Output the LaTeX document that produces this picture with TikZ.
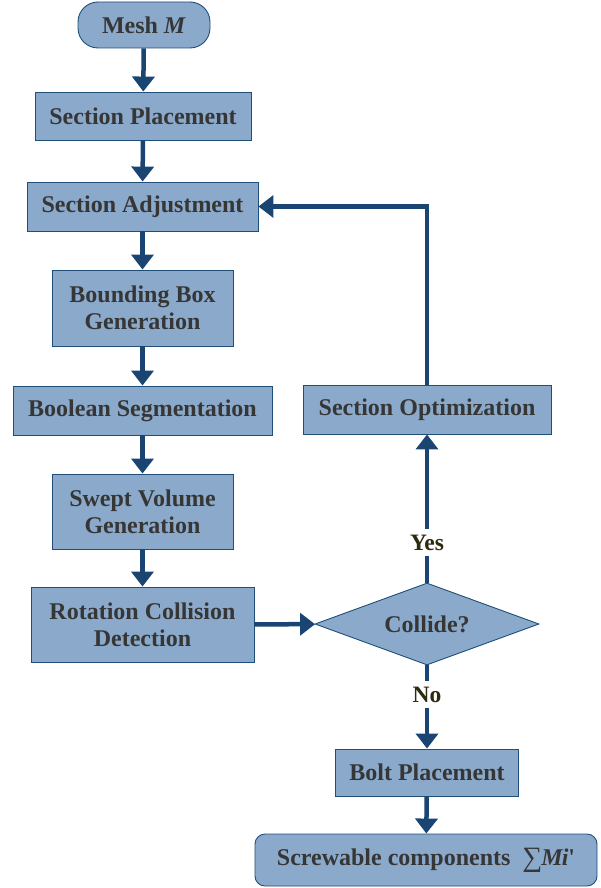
\documentclass[tikz,border=0pt]{standalone}
\usepackage{fontspec}
\setmainfont{Liberation Serif}
\usetikzlibrary{shapes.geometric,arrows.meta}
\definecolor{boxfill}{HTML}{8BAACB}
\definecolor{boxline}{HTML}{1F4E79}
\definecolor{arrowc}{HTML}{1A4472}
\definecolor{txt}{HTML}{363636}
\definecolor{lbl}{HTML}{2E2A10}
\begin{document}
\begin{tikzpicture}[x=1pt,y=-1pt,
  stepbox/.style={draw=boxline,line width=0.9pt,fill=boxfill,text=txt,font=\fontsize{24}{27}\selectfont\bfseries,align=center,inner sep=0pt},
  flow/.style={draw=arrowc,line width=4.5pt,-{Triangle[width=22pt,length=15pt]}},
  lab/.style={fill=white,text=lbl,font=\fontsize{23.5}{26}\selectfont\bfseries,inner sep=6pt}]
\useasboundingbox (0,0) rectangle (601,888);
\node[stepbox,rounded corners=20pt,minimum width=132pt,minimum height=46pt] (mesh) at (144,25) {Mesh \textit{M}};
\node[stepbox,minimum width=216pt,minimum height=48pt] (place) at (143,116) {Section Placement};
\node[stepbox,minimum width=231pt,minimum height=49pt] (adj) at (142.5,206.5) {Section Adjustment};
\node[stepbox,minimum width=181pt,minimum height=76pt] (bbox) at (142.5,308) {Bounding Box\\Generation};
\node[stepbox,minimum width=259pt,minimum height=49pt] (bool) at (142.5,410.5) {Boolean Segmentation};
\node[stepbox,minimum width=181pt,minimum height=75pt] (swept) at (142.5,511.5) {Swept Volume\\Generation};
\node[stepbox,minimum width=223pt,minimum height=75pt] (rot) at (142.5,624.5) {Rotation Collision\\Detection};
\node[stepbox,shape=diamond,aspect=2.7,minimum width=224pt,minimum height=82pt] (coll) at (427,624) {Collide?};
\node[stepbox,minimum width=248pt,minimum height=49pt] (opt) at (427,409.5) {Section Optimization};
\node[stepbox,minimum width=183pt,minimum height=47pt] (bolt) at (427,772.5) {Bolt Placement};
\node[stepbox,rounded corners=10pt,minimum width=342pt,minimum height=52pt] (screw) at (426,860) {Screwable components\ \ \raisebox{-1pt}{\fontsize{28}{28}\selectfont\mdseries ∑}\kern-1pt\textit{M\kern-1pt i}\textquotesingle};
\draw[flow] (mesh) -- (place);
\draw[flow] (place) -- (adj);
\draw[flow] (adj) -- (bbox);
\draw[flow] (bbox) -- (bool);
\draw[flow] (bool) -- (swept);
\draw[flow] (swept) -- (rot);
\draw[flow] (rot) -- (coll);
\draw[flow] (coll) -- node[lab,pos=0.27] {Yes} (opt);
\draw[flow] (opt.north) |- (adj.east);
\draw[flow] (coll) -- node[lab,pos=0.35] {No} (bolt);
\draw[flow] (bolt) -- (screw);
\end{tikzpicture}
\end{document}
